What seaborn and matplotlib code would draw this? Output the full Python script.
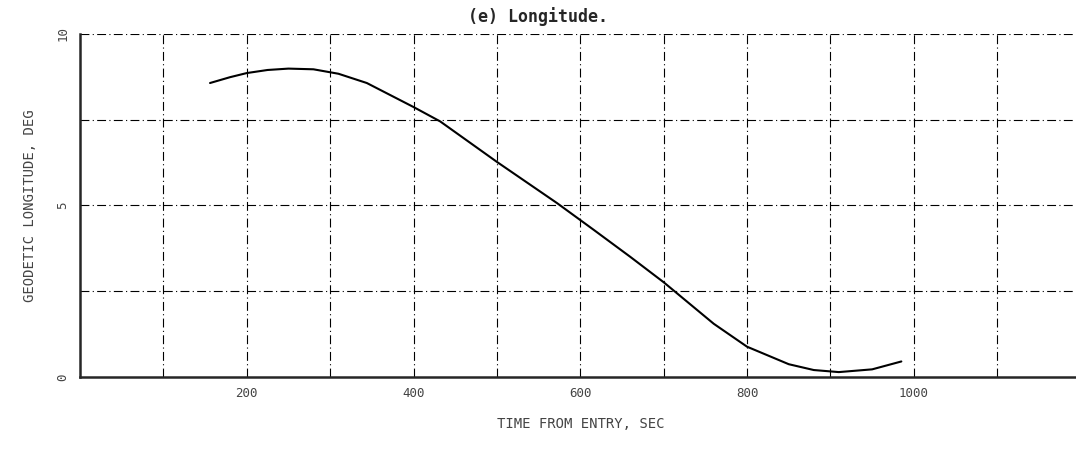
import numpy as np
import pandas as pd
import matplotlib.pyplot as plt
import seaborn as sns

# values
time_sec = [156, 180, 200, 225, 250, 280, 310, 344, 400, 432, 500, 572, 616, 660, 700, 760, 800, 850, 880, 910, 950, 985]
longitude_deg = [8.57, 8.74, 8.86, 8.95, 8.99, 8.97, 8.84, 8.57, 7.87, 7.45, 6.27, 5.07, 4.29, 3.50, 2.76, 1.55, 0.88, 0.37, 0.20, 0.14, 0.22, 0.45]

x_ticks = [200, 400, 600, 800, 1000]
x_grid = [0, 100, 200, 300, 400, 500, 600, 700, 800, 900, 1000, 1100, 1200]
y_ticks = [0, 5, 10]
y_grid = [0, 2.5, 5, 7.5, 10]

df = pd.DataFrame({'Time': time_sec, 'Longitude': longitude_deg})

sns.set_style('white')
plt.rcParams['font.family'] = ['DejaVu Sans Mono', 'DejaVu Sans']

fig = plt.figure(figsize=(10.76, 4.53), dpi=100)
ax = fig.add_axes([0.0743, 0.168, 0.93, 0.757])

sns.lineplot(data=df, x='Time', y='Longitude', color='black', linewidth=1.5, ax=ax)

# dash-dot grid like the original plotter paper
for gx in x_grid[1:]:
    ax.axvline(gx, color='black', linewidth=0.8, linestyle='-.', dashes=(8, 3, 1, 3))
for gy in y_grid[1:]:
    ax.axhline(gy, color='black', linewidth=0.8, linestyle='-.', dashes=(8, 3, 1, 3))

ax.set_xlim(0, 1200)
ax.set_ylim(0, 10)
ax.set_xticks(x_ticks)
ax.set_yticks(y_ticks)
ax.set_xticklabels([str(v) for v in x_ticks], fontsize=9, color='#444444')
ax.set_yticklabels([str(v) for v in y_ticks], fontsize=9, color='#444444', rotation=90, va='center')
ax.tick_params(axis='both', direction='inout', length=8, width=1.2, color='black')

for side in ['top', 'right']:
    ax.spines[side].set_visible(False)
ax.spines['left'].set_linewidth(1.8)
ax.spines['bottom'].set_linewidth(1.8)

ax.set_xlabel('TIME FROM ENTRY, SEC', fontsize=10, color='#444444', labelpad=12)
ax.set_ylabel('GEODETIC LONGITUDE, DEG', fontsize=10, color='#444444', labelpad=14)

fig.text(0.5, 0.985, '(e) Longitude.', ha='center', va='top', fontsize=12, fontweight='bold')

fig.savefig('out.png', dpi=100)
